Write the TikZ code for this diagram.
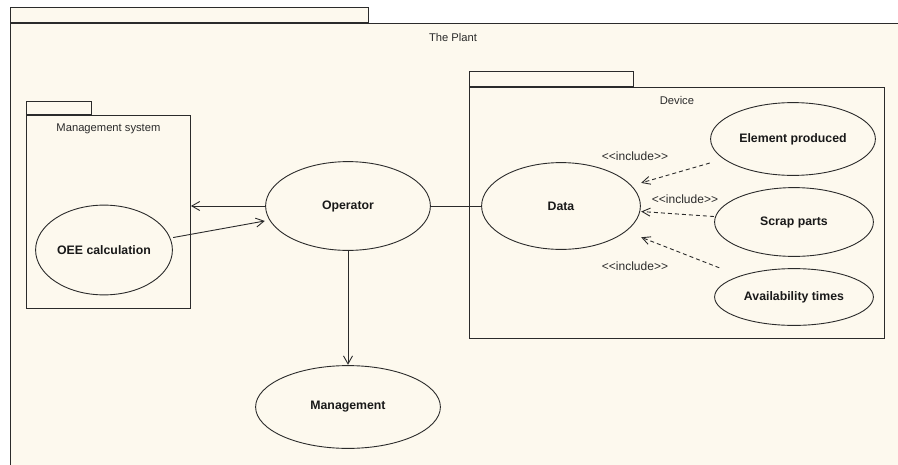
\documentclass[tikz,border=0pt]{standalone}
\usepackage{fontspec}
\setmainfont{Liberation Sans}
\usetikzlibrary{arrows.meta,calc}
\definecolor{paper}{HTML}{FDF9EE}
\definecolor{ink}{HTML}{2B2B2B}
\begin{document}
\begin{tikzpicture}[x=1pt,y=-1pt,
  pkg/.style={rectangle, draw=ink, fill=paper, line width=0.9pt, inner sep=0pt},
  pkglabel/.style={font=\fontsize{11.2}{13}\selectfont, text=ink, inner sep=0pt},
  usecase/.style 2 args={rectangle, inner sep=0pt, minimum width=#1, minimum height=#2,
    font=\fontsize{12.3}{14}\selectfont\bfseries, text=black!90,
    path picture={\draw[ink, line width=0.9pt] (path picture bounding box.center)
      ellipse [x radius=#1/2-0.6pt, y radius=#2/2-0.6pt];}},
  assoc/.style={draw=ink, line width=0.9pt, -{Straight Barb[length=8pt,width=9pt]}},
  link/.style={draw=ink, line width=0.9pt},
  incl/.style={draw=ink, line width=0.9pt, dash pattern=on 4pt off 3pt,
    -{Straight Barb[length=8pt,width=8pt]}},
  stereo/.style={font=\fontsize{12}{14}\selectfont, text=ink, inner sep=0pt}]

\clip (0,0) rectangle (898,464);
\fill[white] (0,0) rectangle (898,464);

% outer package: The Plant
\node[pkg, anchor=north west, minimum width=900pt, minimum height=460pt] (plant) at (10,23) {};
\node[pkg, anchor=south west, minimum width=358pt, minimum height=15pt] (planttab) at (plant.north west) {};
\node[pkglabel] (plantlabel) at (453,37) {The Plant};

% package: Management system
\node[pkg, anchor=north west, minimum width=164pt, minimum height=193pt] (ms) at (26,115) {};
\node[pkg, anchor=south west, minimum width=65pt, minimum height=13pt] (mstab) at (ms.north west) {};
\node[pkglabel] (mslabel) at ($(ms.north)+(0,14)$) {Management system};

% package: Device
\node[pkg, anchor=north west, minimum width=415pt, minimum height=251pt] (dev) at (469,87) {};
\node[pkg, anchor=south west, minimum width=164pt, minimum height=15pt] (devtab) at (dev.north west) {};
\node[pkglabel] (devlabel) at ($(dev.north)+(0,13)$) {Device};

% use cases
\node[usecase={138pt}{91pt}] (oee) at (104,250) {OEE calculation};
\node[usecase={166pt}{90pt}] (op) at (348,206) {Operator};
\node[usecase={186pt}{84pt}] (mg) at (348,407) {Management};
\node[usecase={160pt}{88pt}] (data) at (561,206) {Data};
\node[usecase={166pt}{74pt}] (ep) at (793,139) {Element produced};
\node[usecase={160pt}{70pt}] (sp) at (794,222) {Scrap parts};
\node[usecase={160pt}{58pt}] (avt) at (794,297) {Availability times};

% associations
\draw[assoc] (op.west) -- (op.west -| ms.east);
\draw[assoc] (oee) -- (op);
\draw[assoc] (op) -- (mg);
\draw[link] (op) -- (data);

% include dependencies
\draw[incl] (ep) -- (data);
\draw[incl] (sp) -- (data);
\draw[incl] (avt) -- (data);
\node[stereo] (inc1) at (635,156) {<{}<include>{}>};
\node[stereo] (inc2) at (685,199) {<{}<include>{}>};
\node[stereo] (inc3) at (635,266) {<{}<include>{}>};
\end{tikzpicture}
\end{document}
